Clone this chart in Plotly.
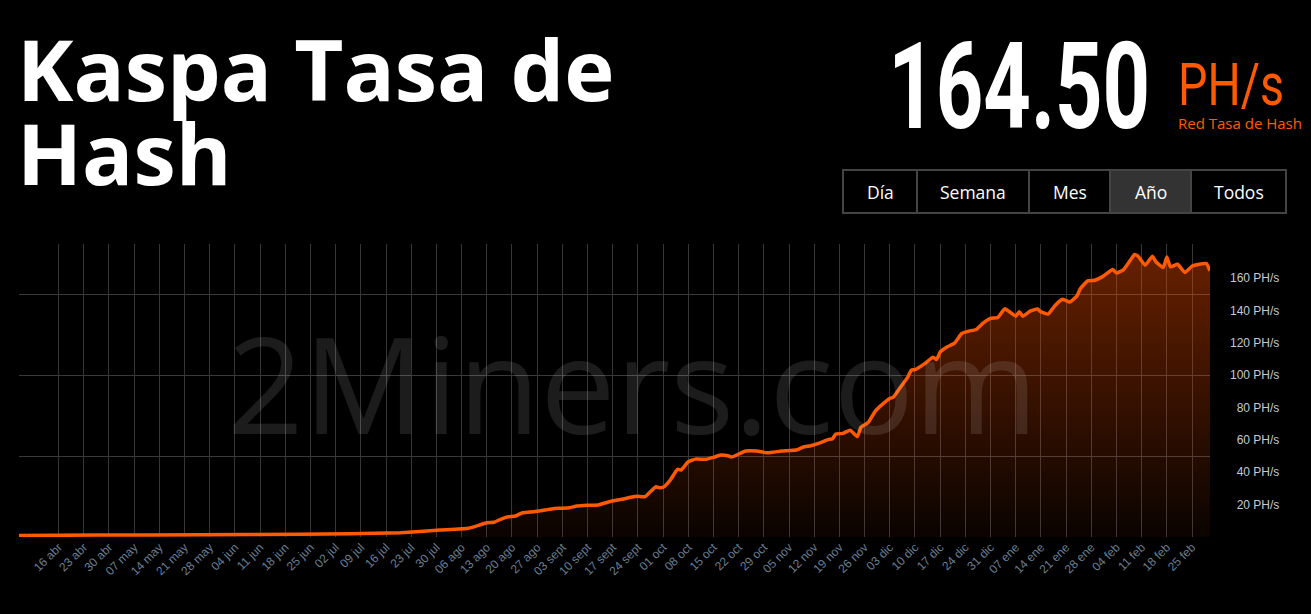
import plotly.graph_objects as go
import pandas as pd

# ---------------- data ----------------
dates = [
    "2023-04-05", "2023-04-27", "2023-05-25", "2023-06-22", "2023-07-06", "2023-07-20",
    "2023-07-31", "2023-08-08", "2023-08-11", "2023-08-13", "2023-08-15", "2023-08-17",
    "2023-08-19", "2023-08-21", "2023-08-23", "2023-08-26", "2023-08-28", "2023-08-31",
    "2023-09-02", "2023-09-05", "2023-09-07", "2023-09-10", "2023-09-13", "2023-09-16",
    "2023-09-20", "2023-09-22", "2023-09-24", "2023-09-26", "2023-09-29", "2023-09-30",
    "2023-10-01", "2023-10-03", "2023-10-05", "2023-10-06", "2023-10-08", "2023-10-10",
    "2023-10-13", "2023-10-15", "2023-10-17", "2023-10-19", "2023-10-20", "2023-10-24",
    "2023-10-27", "2023-10-30", "2023-11-03", "2023-11-07", "2023-11-09", "2023-11-11",
    "2023-11-14", "2023-11-16", "2023-11-17", "2023-11-18", "2023-11-20", "2023-11-22",
    "2023-11-24", "2023-11-25", "2023-11-27", "2023-11-29", "2023-12-01", "2023-12-03",
    "2023-12-04", "2023-12-06", "2023-12-08", "2023-12-09", "2023-12-10", "2023-12-13",
    "2023-12-15", "2023-12-16", "2023-12-17", "2023-12-19", "2023-12-21", "2023-12-23",
    "2023-12-25", "2023-12-27", "2023-12-29", "2023-12-31", "2024-01-02", "2024-01-04",
    "2024-01-07", "2024-01-08", "2024-01-09", "2024-01-11", "2024-01-13", "2024-01-14",
    "2024-01-16", "2024-01-18", "2024-01-20", "2024-01-22", "2024-01-24", "2024-01-25",
    "2024-01-27", "2024-01-29", "2024-01-31", "2024-02-03", "2024-02-04", "2024-02-06",
    "2024-02-08", "2024-02-09", "2024-02-10", "2024-02-12", "2024-02-14", "2024-02-15",
    "2024-02-17", "2024-02-18", "2024-02-19", "2024-02-21", "2024-02-23", "2024-02-25",
    "2024-02-27", "2024-02-29", "2024-03-01",
]
hashrate_phs = [
    0.9, 1.2, 1.4, 1.7, 2.0, 2.7,
    4.3, 5.4, 7.4, 8.8, 9.1, 11.1,
    12.5, 13.0, 15.0, 15.6, 16.2, 17.3,
    17.7, 18.1, 19.1, 19.6, 19.8, 21.8,
    23.5, 24.5, 25.1, 24.9, 31.0, 30.4,
    30.7, 35.2, 41.8, 41.4, 46.5, 48.1,
    48.0, 49.2, 50.6, 50.2, 49.4, 53.1,
    53.1, 52.0, 53.1, 53.7, 55.6, 56.4,
    58.5, 60.3, 60.5, 63.6, 64.0, 66.0,
    62.0, 67.9, 70.7, 77.8, 82.1, 85.6,
    86.4, 92.6, 98.8, 103.1, 103.4, 107.6,
    111.1, 109.6, 114.2, 117.5, 119.8, 125.7,
    127.2, 128.2, 132.3, 135.0, 135.6, 141.0,
    136.4, 139.1, 136.4, 139.5, 140.9, 139.1,
    137.7, 143.2, 146.9, 145.2, 148.8, 153.5,
    158.2, 158.6, 160.7, 165.2, 163.1, 165.2,
    171.4, 174.5, 173.5, 167.9, 173.5, 169.9,
    166.5, 173.0, 166.9, 168.5, 163.4, 167.3,
    168.5, 169.0, 164.5,
]

x_tick_labels = [
    "16 abr", "23 abr", "30 abr", "07 may", "14 may", "21 may", "28 may",
    "04 jun", "11 jun", "18 jun", "25 jun", "02 jul", "09 jul", "16 jul",
    "23 jul", "30 jul", "06 ago", "13 ago", "20 ago", "27 ago", "03 sept",
    "10 sept", "17 sept", "24 sept", "01 oct", "08 oct", "15 oct", "22 oct",
    "29 oct", "05 nov", "12 nov", "19 nov", "26 nov", "03 dic", "10 dic",
    "17 dic", "24 dic", "31 dic", "07 ene", "14 ene", "21 ene", "28 ene",
    "04 feb", "11 feb", "18 feb", "25 feb",
]
first_tick_date = "2023-04-16"
y_tick_values = [20, 40, 60, 80, 100, 120, 140, 160]
y_grid_values = [50, 100, 150]
current_value = "164.50"
unit = "PH/s"
buttons = ["Día", "Semana", "Mes", "Año", "Todos"]
active_button = "Año"

# ---------------- geometry ----------------
W, H = 1311, 614
L, R, T, B = 19, 101, 244, 77
PW = W - L - R
PHt = H - T - B


def px(x):
    return (x - L) / PW


def py(y):
    return (H - B - y) / PHt


ORANGE = "#ff5a00"

x_tick_vals = list(pd.date_range(first_tick_date, periods=len(x_tick_labels), freq="7D"))
y_tick_text = [("\u2007" if v < 100 else "") + f"{v} PH/s" for v in y_tick_values]

fig = go.Figure()
fig.add_trace(go.Scatter(
    x=pd.to_datetime(dates), y=hashrate_phs,
    mode="lines",
    line=dict(color=ORANGE, width=3.5, shape="spline", smoothing=0.4),
    fill="tozeroy",
    fillgradient=dict(
        type="vertical",
        colorscale=[[0, "rgba(255,80,0,0.04)"], [1, "rgba(255,80,0,0.40)"]],
        start=0, stop=175,
    ),
    hoverinfo="skip",
    showlegend=False,
))

annotations = []
shapes = []

# watermark
annotations.append(dict(
    text="2Miners.com", x=px(632), y=py(382), xref="paper", yref="paper",
    showarrow=False, xanchor="center", yanchor="middle",
    font=dict(family="Open Sans", size=134, color="rgba(255,255,255,0.11)"),
))

# title
for line_text, cy in [("Kaspa Tasa de", 68), ("Hash", 152)]:
    annotations.append(dict(
        text=f"<b>{line_text}</b>", x=px(15), y=py(cy), xref="paper", yref="paper",
        showarrow=False, xanchor="left", yanchor="middle",
        font=dict(family="Open Sans", size=85, color="#ffffff"),
    ))

# big value (condensed horizontally in the page script below)
annotations.append(dict(
    text=f"<b>{current_value}</b>", x=px(1152), y=py(87), xref="paper", yref="paper",
    showarrow=False, xanchor="right", yanchor="middle",
    font=dict(family="Roboto", size=121, color="#ffffff"),
))
annotations.append(dict(
    text=unit, x=px(1176), y=py(85), xref="paper", yref="paper",
    showarrow=False, xanchor="left", yanchor="middle",
    font=dict(family="Roboto", size=60, color=ORANGE),
))
annotations.append(dict(
    text="Red Tasa de Hash", x=px(1176), y=py(123), xref="paper", yref="paper",
    showarrow=False, xanchor="left", yanchor="middle",
    font=dict(family="Open Sans", size=15, color=ORANGE),
))

# button group
edges = [843, 917, 1029, 1110, 1191, 1286]
btn_top, btn_bot = 170, 213
for i, label in enumerate(buttons):
    x0, x1 = edges[i], edges[i + 1]
    if label == active_button:
        shapes.append(dict(type="rect", xref="paper", yref="paper",
                           x0=px(x0), x1=px(x1), y0=py(btn_bot), y1=py(btn_top),
                           fillcolor="#333333", line=dict(width=0), layer="below"))
    annotations.append(dict(
        text=label, x=px((x0 + x1) / 2), y=py(192), xref="paper", yref="paper",
        showarrow=False, xanchor="center", yanchor="middle",
        font=dict(family="Open Sans", size=17.5, color="#ffffff"),
    ))
for e in edges[1:-1]:
    shapes.append(dict(type="line", xref="paper", yref="paper",
                       x0=px(e), x1=px(e), y0=py(btn_bot), y1=py(btn_top),
                       line=dict(color="#444444", width=2)))
shapes.append(dict(type="rect", xref="paper", yref="paper",
                   x0=px(edges[0]), x1=px(edges[-1]), y0=py(btn_bot), y1=py(btn_top),
                   line=dict(color="#444444", width=2), fillcolor="rgba(0,0,0,0)"))

fig.update_layout(
    width=W, height=H, autosize=False,
    margin=dict(l=L, r=R, t=T, b=B, pad=0),
    paper_bgcolor="#000000", plot_bgcolor="#000000",
    annotations=annotations, shapes=shapes,
    font=dict(family="Liberation Sans, Arial, sans-serif"),
    xaxis=dict(
        type="date",
        range=[dates[0], dates[-1]],
        tickvals=x_tick_vals, ticktext=x_tick_labels,
        tickangle=-45,
        tickfont=dict(size=12, color="#6b7f93", family="Liberation Sans, Arial"),
        showgrid=True, gridcolor="#363636", gridwidth=1,
        zeroline=False, showline=False, ticks="",
        fixedrange=True,
    ),
    yaxis=dict(
        range=[0, 181], side="right",
        tickvals=y_tick_values, ticktext=y_tick_text,
        tickfont=dict(size=12, color="#c3cad3", family="Liberation Sans, Arial"),
        showgrid=False, zeroline=False, showline=False, ticks="",
        ticklabelstandoff=19,
        fixedrange=True,
    ),
    yaxis2=dict(
        range=[0, 181], overlaying="y", side="right",
        tickvals=y_grid_values, showticklabels=False,
        showgrid=True, gridcolor="#3a3a3a", gridwidth=1,
        zeroline=False, showline=False, ticks="",
        fixedrange=True,
    ),
)
# empty trace so the secondary axis (50 PH/s grid) is drawn
fig.add_trace(go.Scatter(x=[dates[0]], y=[None], yaxis="y2", showlegend=False, hoverinfo="skip"))

# page script: no body margin, and a condensed look for the big readout
post = """
document.body.style.margin='0';
document.body.style.background='#000';
var gd = document.getElementById('{plot_id}');
var targets = {'164.50': [262, 'right'], 'PH/s': [106, 'left']};
gd.querySelectorAll('text.annotation-text').forEach(function(t){
  var spec = targets[t.textContent];
  if (!spec) return;
  var b = t.getBBox();
  var s = spec[0] / b.width;
  var ax = spec[1] === 'right' ? (b.x + b.width) : b.x;
  var prev = t.getAttribute('transform') || '';
  t.setAttribute('transform', prev + ' translate(' + (ax * (1 - s)) + ',0) scale(' + s + ',1)');
});
"""

fig.write_html(
    "out.html",
    config={"displayModeBar": False, "staticPlot": True},
    post_script=post,
)
